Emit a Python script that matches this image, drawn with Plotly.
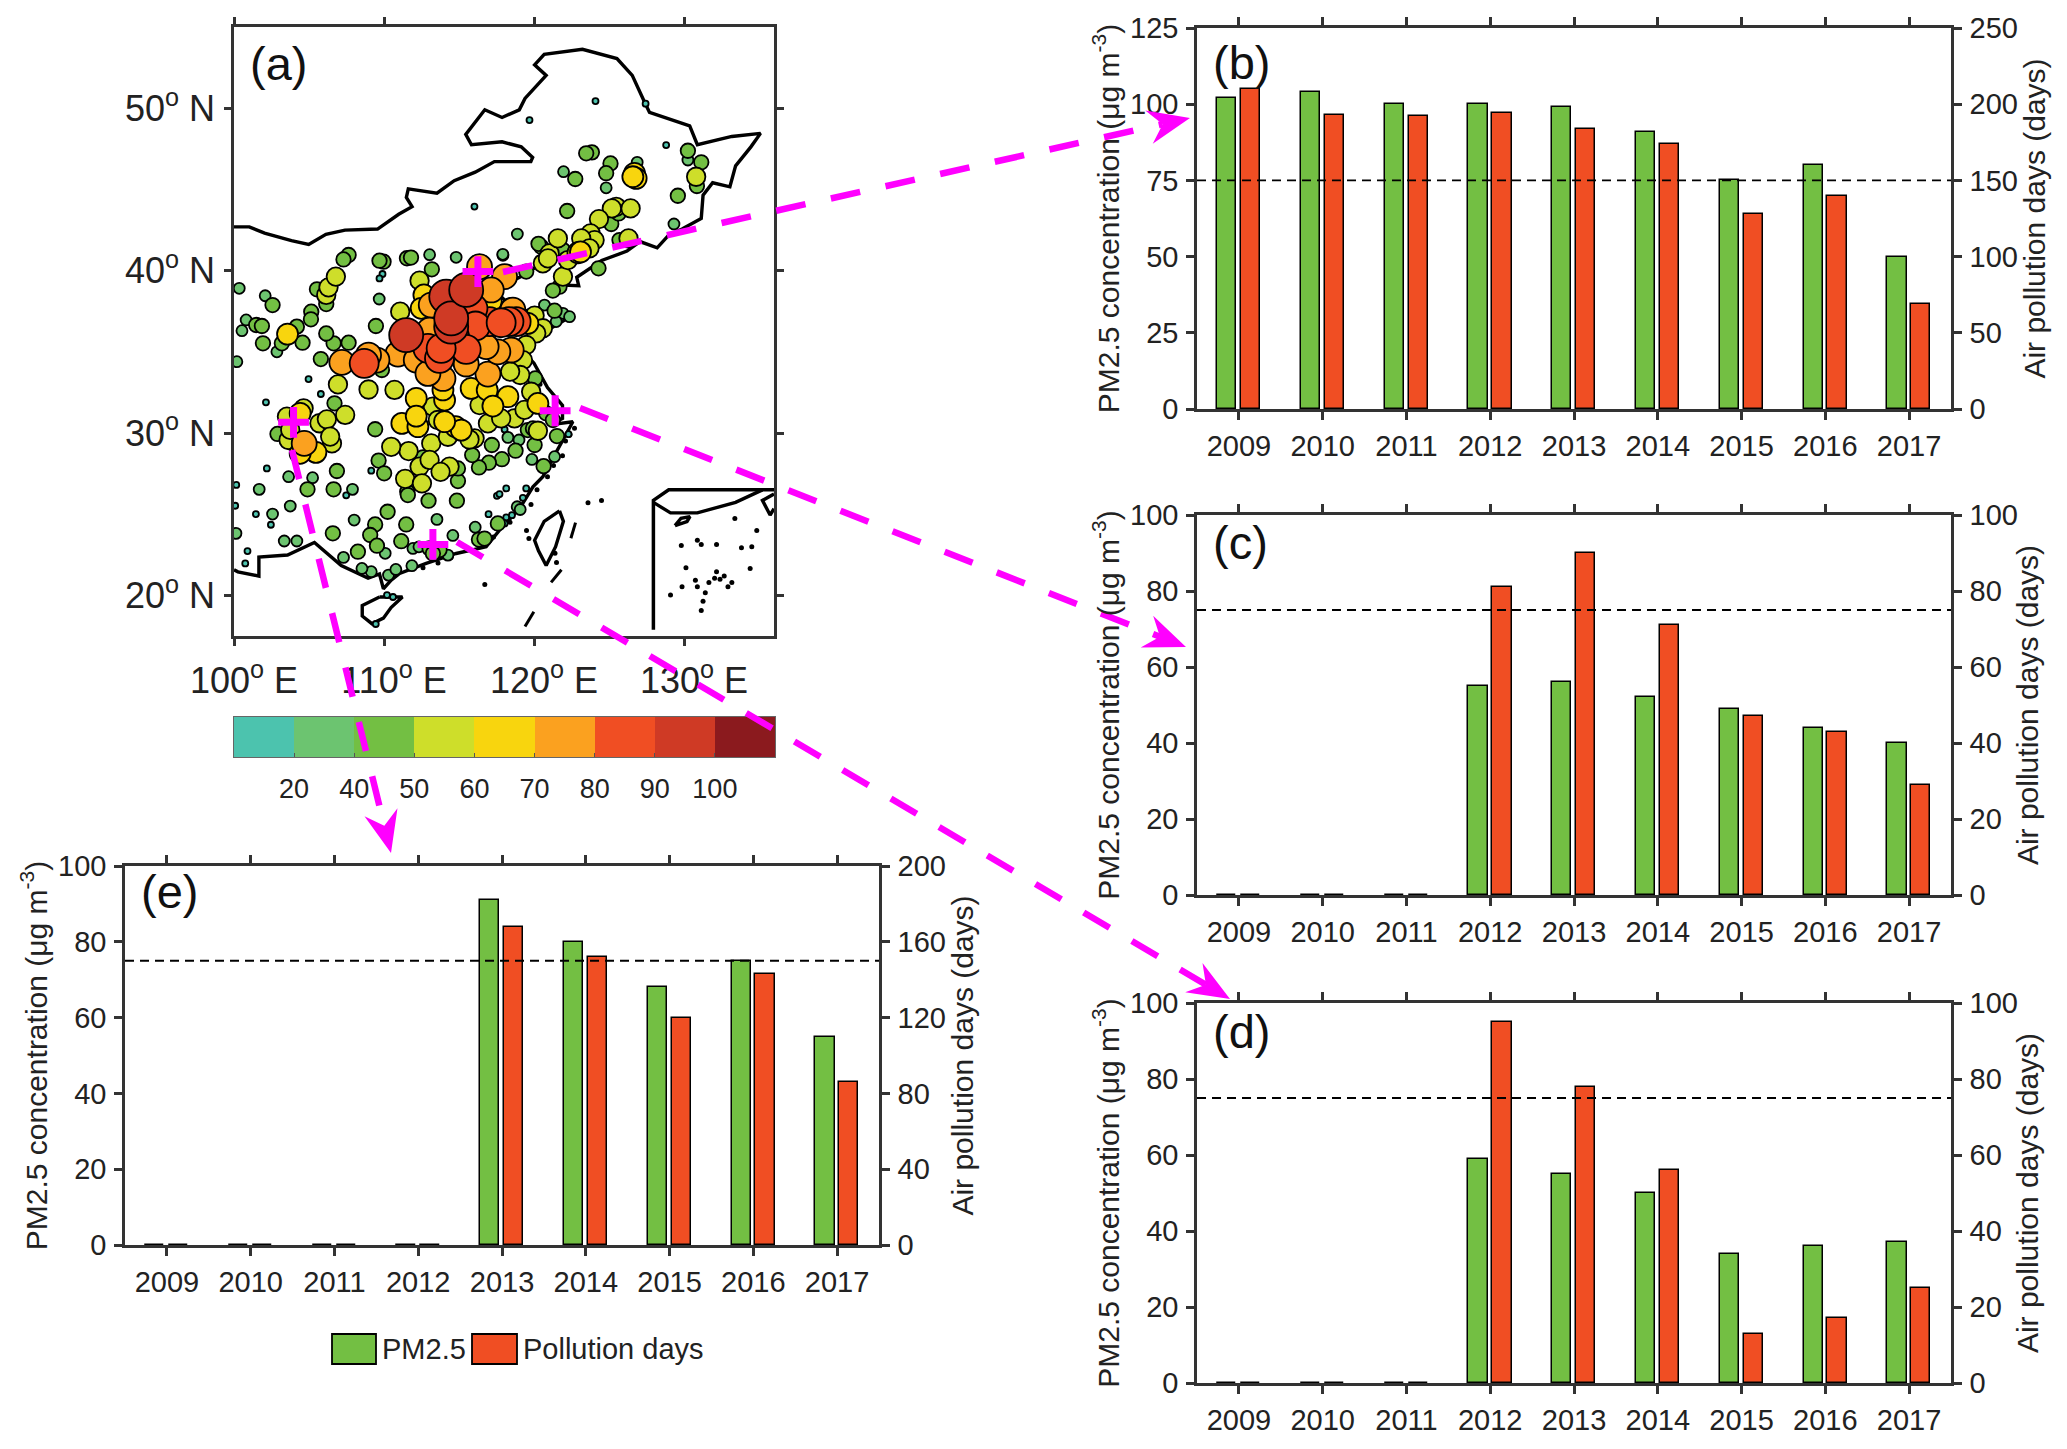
import numpy as np
import plotly.graph_objects as go

W, H = 2051, 1433   # figure size; the page adds an 8 px body margin
PAGE_OFFSET = 8

# ---------- bar panels data ----------
years = [2009, 2010, 2011, 2012, 2013, 2014, 2015, 2016, 2017]
pm_b = [102, 104, 100, 100, 99, 91, 75, 80, 50]
days_b = [210, 193, 192, 194, 184, 174, 128, 140, 69]
pm_c = [0, 0, 0, 55, 56, 52, 49, 44, 40]
days_c = [0, 0, 0, 81, 90, 71, 47, 43, 29]
pm_d = [0, 0, 0, 59, 55, 50, 34, 36, 37]
days_d = [0, 0, 0, 95, 78, 56, 13, 17, 25]
pm_e = [0, 0, 0, 0, 91, 80, 68, 75, 55]
days_e = [0, 0, 0, 0, 168, 152, 120, 143, 86]
standard_pm = 75

# ---------- colour bar ----------
cbar_labels = ["20", "40", "50", "60", "70", "80", "90", "100"]
cbar_colors = ["#4CC3AE", "#6CC470", "#73BF43", "#CEDE2A", "#F8D50E", "#FBA11F", "#F04E23", "#CF3A25", "#8B1A1E"]

# ---------- monitoring sites, (lon, lat), grouped by PM2.5 class ----------
sites_lt20 = [(124.1,50.44),(127.44,50.28),(119.7,49.27),(116.03,43.94),(128.81,47.73),(109.9,39.79),(109.7,39.52),
 (104.97,33.32),(105.79,32.4),(102.13,31.89),(102.19,27.82),(109.15,27.68),(107.48,26.16),(100.15,26.8),(100.08,25.52),
 (101.46,25.01),(102.46,24.35),(100.9,22.73),(100.75,21.97),(118.04,30.22),(122.3,29.93),(118.15,26.59),(117.53,26.13),
 (117.7,26.24),(119.48,26.59),(119.26,26.01),(116.97,25.0),(118.15,24.8),(118.53,24.94),(118.04,24.43),(110.2,20.02),
 (110.6,19.9),(109.45,18.24),(114.4,22.4)]
sites_20_40 = [(113.04,40.98),(114.81,40.82),(117.93,40.94),(120.7,37.88),(121.93,37.37),(122.37,37.16),(121.48,36.86),
 (118.26,29.73),(119.0,29.57),(119.86,28.37),(121.37,28.54),(100.35,38.91),(102.08,38.45),(100.81,36.96),(100.53,36.3),
 (102.86,35.0),(100.19,34.39),(106.19,35.99),(109.68,38.25),(103.64,27.31),(105.24,27.25),(107.9,26.53),(101.68,26.53),
 (103.75,25.5),(102.57,25.01),(108.01,24.64),(103.35,23.35),(104.19,23.35),(100.13,23.82),(107.3,22.34),(110.08,22.59),
 (109.15,21.46),(108.53,21.66),(110.3,21.25),(110.79,21.6),(111.86,21.83),(113.53,24.68),(116.08,24.2),(114.59,23.69),
 (118.88,25.46),(119.08,25.29),(111.93,22.89),(112.33,22.99),(114.26,22.48),(121.97,46.09),(126.88,46.67),(124.81,45.1),
 (130.26,46.81),(129.33,42.87),(118.89,42.25),(117.92,41.0)]
sites_40_50 = [(111.53,40.76),(111.8,40.8),(113.19,40.08),(119.48,39.94),(124.3,40.14),(121.37,37.53),(120.08,33.36),
 (121.53,29.81),(120.04,29.26),(118.77,28.91),(120.64,27.96),(117.86,28.39),(116.99,28.17),(116.33,27.88),(117.19,29.26),
 (115.88,28.64),(119.59,30.18),(119.93,30.28),(120.81,31.21),(121.26,30.8),(121.7,39.01),(121.26,38.77),
 (107.64,40.96),(107.3,40.69),(109.97,40.55),(109.7,40.61),(105.53,38.85),(102.57,37.88),(101.48,36.65),(101.86,36.59),
 (104.19,36.55),(105.15,37.47),(105.13,37.0),(103.19,35.52),(101.93,35.52),(104.57,35.56),(106.64,35.52),(107.64,35.56),
 (106.15,36.13),(109.46,36.59),(105.79,34.55),(106.15,37.94),(109.86,33.88),(106.7,31.83),(109.41,30.23),(102.9,29.94),
 (106.86,27.66),(104.9,26.53),(106.64,26.53),(109.64,28.3),(110.01,27.52),(110.24,25.15),(109.41,24.37),(109.08,23.72),
 (106.59,23.82),(109.53,23.06),(108.26,22.69),(114.93,27.04),(112.97,25.83),(114.86,25.83),(111.48,24.37),(111.15,23.34),
 (117.59,24.43),(116.33,23.44),(116.7,23.5),(111.55,26.38),(111.59,26.18),(113.04,22.89),(113.7,22.79),(113.26,22.58),
 (114.93,27.82),(112.6,28.5),(123.86,47.28),(123.48,47.22),(125.1,46.6),(124.81,46.0),(122.75,45.64),(130.26,47.38),
 (131.15,46.67),(130.86,45.21),(129.59,44.61),(122.21,43.67),(125.15,42.87),(125.64,43.52),(125.7,41.88),(121.93,41.27),
 (120.48,41.47),(120.3,41.65)]
sites_50_60 = [(111.08,37.47),(112.37,39.38),(121.93,39.63),(121.04,41.06),(120.59,40.45),(120.04,37.23),(120.59,36.45),
 (120.15,36.14),(119.48,35.42),(119.26,34.49),(119.08,33.57),(118.41,33.78),(110.7,32.65),(113.26,31.62),(116.37,31.72),
 (116.93,30.59),(118.7,30.9),(117.81,30.9),(120.26,30.14),(116.04,29.67),(113.15,29.36),(111.64,28.89),(110.48,29.15),
 (113.59,30.8),(114.26,29.77),(119.81,32.54),(119.37,31.42),(112.37,27.93),(114.37,27.93),(113.04,28.34),(115.7,29.6),
 (106.15,38.5),(106.3,38.97),(106.79,39.63),(106.93,32.99),(108.97,32.68),(107.41,31.11),(105.7,30.6),(106.19,30.84),
 (106.53,29.36),(106.41,29.78),(104.64,31.52),(103.64,29.57),(103.53,31.01),(103.75,30.19),(111.41,27.18),(112.53,26.9),
 (113.77,27.61),(130.81,45.78),(125.48,43.93),(125.19,43.83),(126.44,43.83),(124.33,43.17),(123.77,42.29),(124.04,41.88),
 (123.15,41.98),(121.59,41.98),(123.7,41.37),(126.3,41.98),(120.93,40.75),(122.26,40.65)]
sites_60_70 = [(112.66,38.5),(112.48,37.68),(112.15,32.13),(114.04,32.03),(115.81,32.75),(113.93,32.65),(116.88,32.65),
 (118.26,32.24),(117.26,31.66),(111.19,30.59),(112.26,30.39),(112.15,31.04),(114.77,30.39),(115.15,30.18),(114.04,30.7),
 (117.15,38.09),(118.48,37.68),(120.26,31.82),(119.26,36.86),(119.59,36.75),(103.57,36.09),(104.41,31.21),(105.46,28.81),
 (104.41,28.75),(126.7,45.99),(126.81,45.68),(126.59,45.78),(122.93,41.1),(123.1,41.15)]
sites_70_80 = [(116.37,40.24),(118.04,39.63),(117.15,38.81),(118.59,37.57),(113.15,37.88),(113.93,33.36),(116.93,33.63),
 (110.93,34.86),(112.15,34.49),(113.04,36.34),(118.48,35.11),(117.59,35.0),(116.81,35.32),(115.48,34.25),(112.93,33.67),
 (109.53,34.49),(108.97,34.8),(107.19,34.35),(104.68,29.36)]
sites_80_90 = [(118.81,36.86),(118.33,36.86),(117.04,36.86),(115.93,37.68),(116.1,36.59),(117.81,36.79),(112.93,35.21),
 (113.7,34.6),(114.7,35.93),(115.48,35.15),(113.81,35.21),(108.68,34.29)]
sites_90_100 = [(114.48,36.55),(114.15,38.4),(114.48,37.06),(111.48,36.03),(115.48,38.81)]
class_sizes = [6, 11, 14.5, 18.5, 21, 25, 29, 34]

city_lon = [116.26, 121.41, 113.26, 103.97]
city_lat = [39.94, 31.37, 23.14, 30.66]

# ---------- outlines (lon, lat) ----------
border = [(100,42.69),(101.02,42.69),(102.04,42.31),(103.83,41.84),(104.98,41.61),(106.13,42.23),(107.4,42.49),(109.57,42.56),
 (110.98,43.47),(111.87,43.94),(111.49,44.51),(111.62,45.03),(113.53,44.77),(114.68,45.54),(116.08,46.06),(117.36,46.71),
 (119.79,46.71),(119.91,46.97),(119.15,47.62),(117.87,47.93),(115.83,47.75),(115.45,48.39),(116.72,49.9),(117.87,49.43),
 (119.02,49.9),(119.4,50.6),(120.81,52.02),(120.04,52.67),(120.68,53.32),(123.23,53.63),(125.53,53.06),(126.55,52.02),
 (127.32,50.47),(127.7,49.74),(130.38,48.91),(130.89,47.75),(133.19,48.26),(135.1,48.45),(134.46,47.62),(133.44,46.45),
 (133.06,45.16),(131.91,45.41),(131.27,44.64),(131.15,43.21),(129.87,42.56),(128.98,42.18),(128.21,41.4),(127.06,41.79),
 (126.2,41.2),(124.51,40.62),(122.85,39.59),(122.98,39.07),(122.0,39.1),(121.8,40.7),(121,40.8),(119.5,39.8),(118,39.1),
 (117.7,38.5),(118.9,37.4),(120.7,37.8),(122.5,37.2),(120.3,36),(119.3,35),(120,34.3),(120.9,32.8),(121.9,31.7),(121.9,30.9),
 (121,30.5),(122.59,30.69),(121.7,29.15),(120.59,27.31),(119.93,26.69),(119.04,25.35),(117.7,24.02),(116.81,22.99),
 (114.81,22.58),(112.81,21.97),(111.04,21.35),(110.48,20.94),(109.96,20.41),(109.7,21.32),(108.94,21.06),(107.15,21.84),
 (105.36,23.26),(103.57,22.49),(101.66,22.36),(101.66,21.19),(100.26,21.45),(100,21.58)]
hainan = [(109.7,19.9),(111.23,19.9),(110.47,19.25),(109.96,18.6),(109.19,18.26),(108.55,18.73),(108.55,19.38),(109.7,19.9)]
taiwan = [(121.7,25.21),(121.96,24.56),(121.44,23.0),(120.81,21.84),(120.3,22.75),(120.04,23.39),(120.68,24.56),(121.7,25.21)]
inset_frame = [(127.96,17.88),(127.96,25.85),(128.98,26.5),(136,26.5)]
inset_coast = [(127.96,25.73),(129.1,25.08),(130.89,25.08),(133.44,25.73),(135.23,26.5)]
inset_coast2 = [(136,26.24),(135.23,25.85),(135.74,24.95),(136,25.34)]
inset_hainan = [(129.4,24.3),(130.2,24.55),(130.4,24.85),(129.8,24.75),(129.4,24.3)]
dash_1 = [(122.77,24.48),(122.46,23.52)]
dash_2 = [(121.83,21.58),(121.14,20.8)]
dash_3 = [(119.99,19.0),(119.4,18.08)]
islands = [(129.82,23.08),(130.89,23.39),(131.15,23.13),(132.17,23.13),(133.39,24.74),(134.85,23.99),(133.83,22.93),(134.52,23.0),
 (130.13,21.71),(134.41,21.66),(132.17,21.45),(132.68,21.19),(131.66,20.8),(130.89,20.54),(133.19,20.8),(129.1,20.03),
 (129.87,20.54),(131.27,19.64),(131.15,19.07),(132.04,21.06),(132.93,20.54),(131.42,20.16),(130.76,20.93),(132.4,21.0),
 (116.72,20.67),(119.66,23.5),(119.5,24.0),(123.6,25.7),(124.5,25.85),(121.4,22.6),(121.5,22.02),
 (122.7,30.3),(122.4,29.9),(122.1,29.5),(121.9,28.6),(121.3,28.0),(120.9,27.3),(120.2,26.5),(119.8,25.6),(118.4,24.5),
 (117.3,23.6),(116.0,22.7),(113.6,22.0),(112.6,21.7),(120.4,33.0)]
spine = "#333333"
font = "Liberation Sans"
text_colour = "#222222"

GREEN, RED = "#73BF43", "#F04E23"
MAGENTA = "#FF00FF"


def fx(p):
    return (p - PAGE_OFFSET) / W


def fy(p):
    return 1 - (p - PAGE_OFFSET) / H


def dom_x(a, b):
    return [fx(a), fx(b)]


def dom_y(a, b):
    return [fy(b), fy(a)]


fig = go.Figure()
layout = dict(width=W, height=H, margin=dict(l=0, r=0, t=0, b=0, autoexpand=False), autosize=False,
              paper_bgcolor="white", plot_bgcolor="white", showlegend=False,
              font=dict(family=font, color=text_colour, size=26), bargap=0)
shapes, annotations = [], []


# ---------- (a) map ----------
def outline(pts, width=3.4):
    fig.add_trace(go.Scatter(x=[p[0] for p in pts], y=[p[1] for p in pts], mode="lines", xaxis="x", yaxis="y",
                             line=dict(color="black", width=width), hoverinfo="skip"))


for o in [border, hainan, taiwan, inset_coast, inset_coast2, inset_hainan]:
    outline(o)
outline(inset_frame, 3.5)
for o in [dash_1, dash_2, dash_3]:
    outline(o, 3)
fig.add_trace(go.Scatter(x=[p[0] for p in islands], y=[p[1] for p in islands], mode="markers", xaxis="x", yaxis="y",
                         marker=dict(color="black", size=5), hoverinfo="skip"))

classes = [sites_lt20, sites_20_40, sites_40_50, sites_50_60, sites_60_70, sites_70_80, sites_80_90, sites_90_100]
for sites, colour, size in zip(classes, cbar_colors, class_sizes):
    fig.add_trace(go.Scatter(x=[p[0] for p in sites], y=[p[1] for p in sites], mode="markers", xaxis="x", yaxis="y",
                             marker=dict(color=colour, size=size, line=dict(color="black", width=1.8))))
fig.add_trace(go.Scatter(x=city_lon, y=city_lat, mode="markers", xaxis="x", yaxis="y",
                         marker=dict(symbol="cross-thin", size=22, line=dict(color=MAGENTA, width=7))))

layout["xaxis"] = dict(domain=dom_x(234, 774), range=[100, 136], anchor="y", tickvals=[100, 110, 120, 130],
                       ticktext=["\u00a0\u00a0100<sup>o</sup> E", "\u00a0\u00a0110<sup>o</sup> E",
                                 "\u00a0\u00a0120<sup>o</sup> E", "\u00a0\u00a0130<sup>o</sup> E"],
                       ticks="outside", ticklen=7, tickwidth=2.5, tickcolor=spine, showline=True, linecolor=spine,
                       linewidth=2.5, mirror="ticks", showgrid=False, zeroline=False,
                       tickfont=dict(size=36, family=font, color=text_colour), ticklabelstandoff=4, tickangle=0)
layout["yaxis"] = dict(domain=dom_y(27, 636), range=[17.5, 55], anchor="x", tickvals=[20, 30, 40, 50],
                       ticktext=["20<sup>o</sup> N", "30<sup>o</sup> N", "40<sup>o</sup> N", "50<sup>o</sup> N"],
                       ticks="outside", ticklen=7, tickwidth=2.5, tickcolor=spine, showline=True, linecolor=spine,
                       linewidth=2.5, mirror="ticks", showgrid=False, zeroline=False,
                       tickfont=dict(size=36, family=font, color=text_colour), ticklabelstandoff=2)
annotations.append(dict(text="(a)", xref="paper", yref="paper", x=fx(248), y=fy(64), xanchor="left", yanchor="middle",
                        showarrow=False, font=dict(size=47, family=font, color="#111111")))

# ---------- colour bar ----------
cx = [i + 0.5 for i in range(len(cbar_colors))]
n = len(cbar_colors)
fig.add_trace(go.Heatmap(x=cx, y=[0], z=[list(range(n))], xaxis="x2", yaxis="y2", showscale=False, hoverinfo="skip",
                         zmin=-0.5, zmax=n - 0.5,
                         colorscale=[[v, c] for i, c in enumerate(cbar_colors) for v in (i / n, (i + 1) / n)]))
layout["xaxis2"] = dict(domain=dom_x(234, 775), range=[0, n], anchor="y2", tickvals=list(range(1, n)), ticktext=cbar_labels,
                        ticks="inside", ticklen=4, tickwidth=1, tickcolor="#555555", showline=True, linecolor="#666666",
                        linewidth=1, mirror=True, showgrid=False, zeroline=False, ticklabelstandoff=8,
                        tickfont=dict(size=27, family=font, color=text_colour))
layout["yaxis2"] = dict(domain=dom_y(717, 757), range=[-0.5, 0.5], anchor="x2", showticklabels=False, ticks="", showline=True,
                        linecolor="#666666", linewidth=1, mirror=True, showgrid=False, zeroline=False)

# ---------- bar panels ----------
panels = [
    ("b", pm_b, days_b, (1197, 1951, 28, 409), 125, 25, 250, 50, 62),
    ("c", pm_c, days_c, (1197, 1951, 515, 895), 100, 20, 100, 20, 542),
    ("d", pm_d, days_d, (1197, 1951, 1003, 1383), 100, 20, 100, 20, 1032),
    ("e", pm_e, days_e, (125, 879, 866, 1245), 100, 20, 200, 40, 891),
]
tick_font = dict(size=29, family=font, color=text_colour)
title_font = dict(size=30, family=font, color=text_colour)
for i, (name, pm, days, box, lmax, lstep, rmax, rstep, label_y) in enumerate(panels):
    xn, yl, yr = i + 3, 2 * i + 3, 2 * i + 4
    x0, x1, y0, y1 = box
    fig.add_trace(go.Bar(x=years, y=pm, xaxis=f"x{xn}", yaxis=f"y{yl}", name="PM2.5", width=0.23, offset=-0.26,
                         marker=dict(color=GREEN, line=dict(color="black", width=1.5))))
    fig.add_trace(go.Bar(x=years, y=days, xaxis=f"x{xn}", yaxis=f"y{yr}", name="Pollution days", width=0.23, offset=0.025,
                         marker=dict(color=RED, line=dict(color="black", width=1.5))))
    layout[f"xaxis{xn}"] = dict(domain=dom_x(x0, x1), range=[2008.5, 2017.5], anchor=f"y{yl}", tickvals=years,
                                ticktext=[str(y) for y in years], ticks="outside", ticklen=8, tickwidth=2.5, tickcolor=spine,
                                showline=True, linecolor=spine, linewidth=3, mirror="ticks", showgrid=False, zeroline=False,
                                tickfont=tick_font, ticklabelstandoff=1, tickangle=0)
    layout[f"yaxis{yl}"] = dict(domain=dom_y(y0, y1), range=[0, lmax], anchor=f"x{xn}",
                                tickvals=list(range(0, lmax + 1, lstep)), ticks="outside", ticklen=8, tickwidth=2.5,
                                tickcolor=spine, showline=True, linecolor=spine, linewidth=2.5, showgrid=False, zeroline=False,
                                tickfont=tick_font, ticklabelstandoff=2,
                                title=dict(text="PM2.5 concentration (μg m<sup>-3</sup>)", font=title_font, standoff=2))
    layout[f"yaxis{yr}"] = dict(domain=dom_y(y0, y1), range=[0, rmax], anchor=f"x{xn}", overlaying=f"y{yl}", side="right",
                                tickvals=list(range(0, rmax + 1, rstep)), ticks="outside", ticklen=8, tickwidth=2.5,
                                tickcolor=spine, showline=True, linecolor=spine, linewidth=2.5, showgrid=False, zeroline=False,
                                tickfont=tick_font, ticklabelstandoff=2,
                                title=dict(text="Air pollution days (days)", font=title_font, standoff=1))
    shapes.append(dict(type="line", xref=f"x{xn} domain", yref=f"y{yl}", x0=0, x1=1, y0=standard_pm, y1=standard_pm,
                       line=dict(color="black", width=1.8, dash="9px,6px")))
    annotations.append(dict(text=f"({name})", xref="paper", yref="paper", x=fx(x0 + 14), y=fy(label_y),
                            xanchor="left", yanchor="middle", showarrow=False,
                            font=dict(size=47, family=font, color="#111111")))

# ---------- legend ----------
legend_items = [("PM2.5", GREEN, 332, 376), ("Pollution days", RED, 472, 517)]
for label, colour, a, b in legend_items:
    shapes.append(dict(type="rect", xref="paper", yref="paper", x0=fx(a), x1=fx(b), y0=fy(1364), y1=fy(1334),
                       fillcolor=colour, line=dict(color="black", width=1.8)))
    annotations.append(dict(text=label, xref="paper", yref="paper", x=fx(b + 4), y=fy(1349), xanchor="left",
                            yanchor="middle", showarrow=False, font=dict(size=29, family=font, color=text_colour)))


# ---------- magenta connectors ----------
def connector(sx, sy, ex, ey):
    d = np.array([ex - sx, ey - sy], float)
    L = np.hypot(*d)
    u = d / L
    v = np.array([-u[1], u[0]])
    tip = np.array([ex, ey], float)
    stem_end = tip - u * 28
    shapes.append(dict(type="line", xref="paper", yref="paper", x0=fx(sx), y0=fy(sy), x1=fx(stem_end[0]), y1=fy(stem_end[1]),
                       line=dict(color=MAGENTA, width=6.5, dash="30px,26px")))
    pts = [tip, tip - u * 42 + v * 17, tip - u * 28, tip - u * 42 - v * 17]
    path = "M" + " L".join(f"{fx(p[0]):.5f},{fy(p[1]):.5f}" for p in pts) + " Z"
    shapes.append(dict(type="path", xref="paper", yref="paper", path=path, fillcolor=MAGENTA, line=dict(color=MAGENTA, width=0)))


connector(503, 272, 1190, 118)
connector(580, 408, 1186, 647)
connector(457, 542, 1230, 999)
connector(292, 450, 391, 853)

layout["shapes"] = shapes
layout["annotations"] = annotations
fig.update_layout(**layout)
fig.write_html("out.html")
